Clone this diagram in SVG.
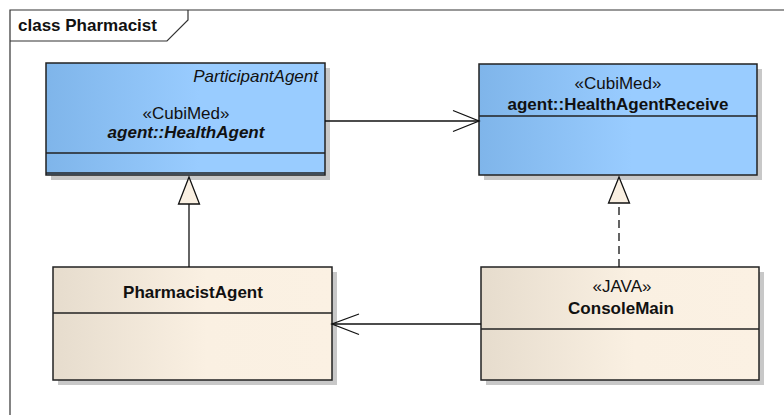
<svg xmlns="http://www.w3.org/2000/svg" width="784" height="415" viewBox="0 0 784 415">
<defs>
<linearGradient id="blue" x1="0" y1="0" x2="1" y2="0">
<stop offset="0" stop-color="#7fb5ea"/>
<stop offset="0.55" stop-color="#99ccff"/>
<stop offset="1" stop-color="#99ccff"/>
</linearGradient>
<linearGradient id="cream" x1="0" y1="0" x2="1" y2="0">
<stop offset="0" stop-color="#e6dccd"/>
<stop offset="0.55" stop-color="#faf0e2"/>
<stop offset="1" stop-color="#fbf1e3"/>
</linearGradient>
</defs>
<style>
.frame{fill:none;stroke:#333;stroke-width:1.2}
.shadow{fill:#c8c8c8}
.box{stroke:#222;stroke-width:1.5}
.sep{stroke:#222;stroke-width:1.3;fill:none}
.t{font-family:"Liberation Sans",Arial,sans-serif;font-size:17px;fill:#111;text-anchor:middle}
.b{font-weight:bold}
.i{font-style:italic}
.edge{stroke:#111;stroke-width:1.3;fill:none}
.dash{stroke-dasharray:8,5}
.tri{fill:#faf0e2;stroke:#111;stroke-width:1.3}
</style>
<g id="frame">
<path class="frame" d="M10,415 V10 H784"/>
<path class="frame" d="M10,41 H167 L188,20 V10"/>
<text class="t b" x="18" y="31" style="text-anchor:start">class Pharmacist</text>
</g>
<g id="HealthAgent">
<rect class="shadow" x="51" y="68" width="279" height="112"/>
<rect class="box" x="46" y="63" width="279" height="112" fill="url(#blue)"/>
<line class="sep" x1="46" y1="153" x2="325" y2="153"/>
<line class="sep" x1="46" y1="173" x2="325" y2="173"/>
<text class="t i" x="318" y="82" style="text-anchor:end">ParticipantAgent</text>
<text class="t" x="186" y="119">«CubiMed»</text>
<text class="t b i" x="186" y="138">agent::HealthAgent</text>
</g>
<g id="HealthAgentReceive">
<rect class="shadow" x="484" y="69" width="278" height="111"/>
<rect class="box" x="479" y="64" width="278" height="111" fill="url(#blue)"/>
<line class="sep" x1="479" y1="116" x2="757" y2="116"/>
<text class="t" x="618" y="89">«CubiMed»</text>
<text class="t b" x="618" y="110">agent::HealthAgentReceive</text>
</g>
<g id="PharmacistAgent">
<rect class="shadow" x="58" y="272" width="279" height="113"/>
<rect class="box" x="53" y="267" width="279" height="113" fill="url(#cream)"/>
<line class="sep" x1="53" y1="313" x2="332" y2="313"/>
<text class="t b" x="193" y="298">PharmacistAgent</text>
</g>
<g id="ConsoleMain">
<rect class="shadow" x="486" y="272" width="278" height="113"/>
<rect class="box" x="481" y="267" width="278" height="113" fill="url(#cream)"/>
<line class="sep" x1="481" y1="329" x2="759" y2="329"/>
<text class="t" x="622" y="292">«JAVA»</text>
<text class="t b" x="621" y="314">ConsoleMain</text>
</g>
<g id="connectors">
<line class="edge" x1="325" y1="121" x2="479" y2="121"/>
<path class="edge" d="M453,110.5 L479,121 L453,131.5"/>
<line class="edge" x1="189" y1="267" x2="189" y2="204"/>
<path class="tri" d="M189,177 L178.5,204 L199.5,204 Z"/>
<line class="edge dash" x1="619" y1="267" x2="619" y2="203"/>
<path class="tri" d="M619,177 L608.5,203 L629.5,203 Z"/>
<line class="edge" x1="481" y1="324" x2="332" y2="324"/>
<path class="edge" d="M359,314 L332,324 L359,334.5"/>
</g>
</svg>
